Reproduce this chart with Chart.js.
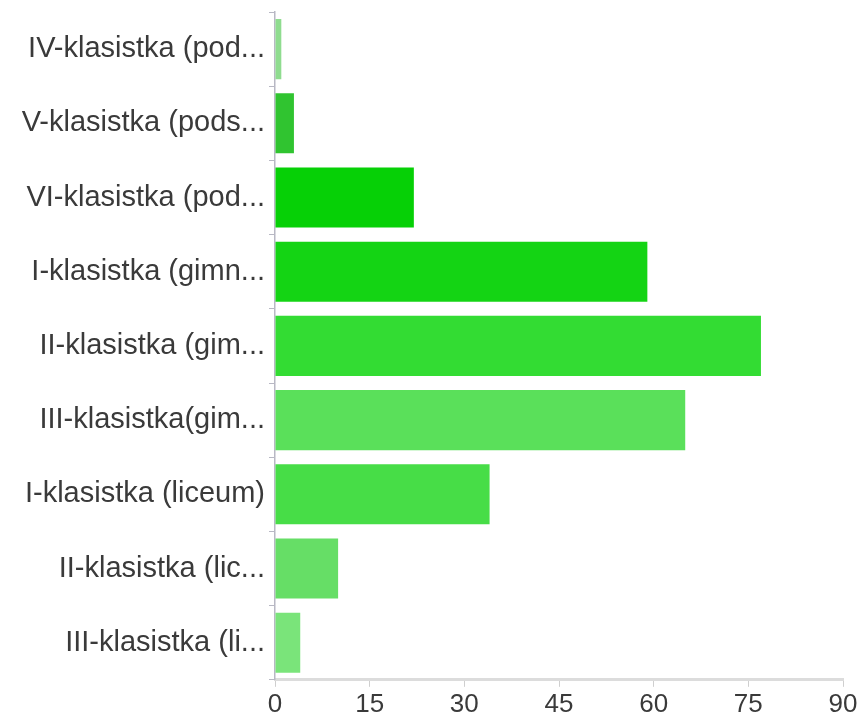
<!DOCTYPE html>
<html>
<head>
<meta charset="utf-8">
<script src="https://cdn.jsdelivr.net/npm/chart.js@4/dist/chart.umd.min.js"></script>
<style>
  html, body { margin: 0; padding: 0; background: #fff; }
  #wrap { width: 865px; height: 722px; }
</style>
</head>
<body>
<div id="wrap"><canvas id="chart" width="865" height="722"></canvas></div>
<script>
// categories (labels are cut short like in the source)
var classLabels = [
    'IV-klasistka (pod...',
    'V-klasistka (pods...',
    'VI-klasistka (pod...',
    'I-klasistka (gimn...',
    'II-klasistka (gim...',
    'III-klasistka(gim...',
    'I-klasistka (liceum)',
    'II-klasistka (lic...',
    'III-klasistka (li...'
];
var answerCounts = [1, 3, 22, 59, 77, 65, 34, 10, 4];
var barColors = ['#8fdc8f', '#30c430', '#06d006', '#14d414', '#33dc33', '#5ae05a', '#47dd47', '#66de66', '#7ae47a'];
var xTicks = [0, 15, 30, 45, 60, 75, 90];

var ctx = document.getElementById('chart');

var chart = new Chart(ctx, {
    type: 'bar',
    data: {
        labels: classLabels,
        datasets: [{
            data: answerCounts,
            backgroundColor: barColors,
            borderWidth: 0,
            categoryPercentage: 1,
            barPercentage: 0.81
        }]
    },
    options: {
        indexAxis: 'y',
        responsive: false,
        animation: false,
        layout: {
            padding: { top: 12, right: 22, bottom: 0, left: 0 }
        },
        plugins: {
            legend: { display: false },
            tooltip: { enabled: false }
        },
        scales: {
            x: {
                min: xTicks[0],
                max: xTicks[xTicks.length - 1],
                ticks: {
                    stepSize: 15,
                    color: '#3a3a3a',
                    padding: 2,
                    font: { family: 'Liberation Sans', size: 26 }
                },
                grid: {
                    drawOnChartArea: false,
                    tickLength: 7,
                    color: '#cfcfcf'
                },
                border: { color: '#dcdcdc', width: 3 }
            },
            y: {
                ticks: {
                    color: '#3a3a3a',
                    padding: 4,
                    font: { family: 'Liberation Sans', size: 29 }
                },
                grid: {
                    drawOnChartArea: false,
                    tickLength: 6,
                    color: '#b8b8c4'
                },
                border: { color: '#b8b8c4', width: 1.5 },
                afterFit: function (scale) {
                    scale.width = 275;
                    scale.paddingTop = 0;
                    scale.paddingBottom = 0;
                }
            }
        }
    }
});
</script>
</body>
</html>
